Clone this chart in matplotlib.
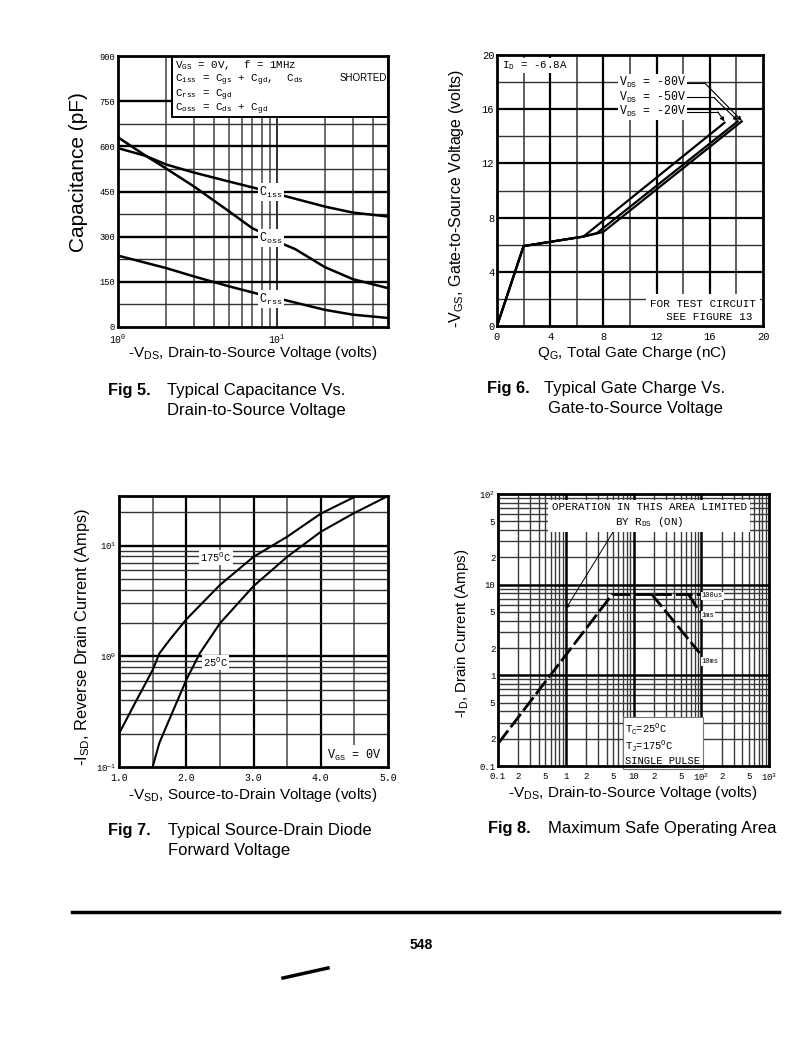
import matplotlib
matplotlib.use('Agg')
import matplotlib.pyplot as plt
from matplotlib.patches import Rectangle

W, H = 796, 1062
MONO = 'Liberation Mono'
SANS = 'Liberation Sans'
plt.rcParams['font.family'] = [SANS, 'DejaVu Sans']

# ---------------- Fig 5 data: capacitance vs VDS ----------------
ciss_v = [1, 1.5, 2, 3, 5, 8, 10, 20, 30, 50]
ciss_c = [594, 568, 540, 513, 483, 456, 442, 400, 380, 367]
coss_v = [1, 1.5, 2, 3, 5, 7, 8, 10, 13, 20, 30, 50]
coss_c = [630, 568, 527, 467, 384, 328, 314, 284, 259, 199, 159, 129]
crss_v = [1, 2, 3, 5, 8, 10, 20, 30, 50]
crss_c = [237, 196, 168, 135, 107, 96, 57, 41, 30]
cap_yticks = [0, 150, 300, 450, 600, 750, 900]

# ---------------- Fig 6 data: gate charge ----------------
qg_20 = [0, 2.0, 6.5, 17.1]
vg_20 = [0, 5.9, 6.6, 15.0]
qg_50 = [0, 2.0, 6.5, 7.5, 18.1]
vg_50 = [0, 5.9, 6.6, 6.85, 15.1]
qg_80 = [0, 2.0, 6.5, 8.0, 18.4]
vg_80 = [0, 5.9, 6.6, 6.95, 15.1]
qg_ticks = [0, 4, 8, 12, 16, 20]

# ---------------- Fig 7 data: diode forward voltage ----------------
vsd_175 = [1.0, 1.25, 1.5, 1.6, 1.75, 2.0, 2.5, 3.0, 3.5, 4.0, 4.53]
isd_175 = [0.2, 0.39, 0.75, 1.06, 1.4, 2.15, 4.4, 7.9, 12, 19.4, 28]
vsd_25 = [1.5, 1.6, 1.75, 2.0, 2.2, 2.5, 3.0, 3.5, 4.0, 4.48, 5.0]
isd_25 = [0.1, 0.165, 0.27, 0.61, 1.06, 1.98, 4.3, 7.9, 13.3, 19.4, 28]
vsd_ticks = [1.0, 2.0, 3.0, 4.0, 5.0]

# ---------------- Fig 8 data: SOA ----------------
rds_v = [0.1, 4.94]
rds_i = [0.176, 7.95]
us100_v = [4.94, 100]
us100_i = [7.95, 7.95]
ms1_v = [63.8, 95]
ms1_i = [7.95, 5.0]
ms10_v = [18.3, 95]
ms10_i = [7.95, 1.76]
soa_xticks = [0.1, 0.2, 0.5, 1, 2, 5, 10, 20, 50, 100, 200, 500, 1000]
soa_xlabels = ['0.1', '2', '5', '1', '2', '5', '10', '2', '5',
               '10$^\\mathregular{2}$', '2', '5', '10$^\\mathregular{3}$']
soa_yticks = [0.1, 0.2, 0.5, 1, 2, 5, 10, 20, 50, 100]
soa_ylabels = ['0.1', '2', '5', '1', '2', '5', '10', '2', '5', '10$^\\mathregular{2}$']


def ax_at(fig, l, t, r, b):
    return fig.add_axes([l / W, 1 - b / H, (r - l) / W, (b - t) / H])


def style(ax):
    for s in ax.spines.values():
        s.set_linewidth(2.0)
        s.set_color('black')
        s.set_zorder(10)
    ax.tick_params(length=0, pad=2)
    ax.tick_params(axis='x', pad=4)


def ftext(fig, x, y, s, **kw):
    fig.text(x / W, 1 - y / H, s, **kw)


WB = dict(facecolor='white', edgecolor='none', pad=1.0)
fig = plt.figure(figsize=(W / 100, H / 100), dpi=100)

# ======================= Fig 5 =======================
ax = ax_at(fig, 118, 56, 388, 327)
ax.set_xscale('log')
ax.set_xlim(1, 50)
ax.set_ylim(0, 900)
for v in [2, 3, 4, 5, 6, 7, 8, 9, 20, 30, 40]:
    ax.axvline(v, color='#444444', lw=1.1, zorder=1)
ax.axvline(10, color='#222222', lw=1.3, zorder=1)
for c in [150, 300, 450, 600, 750]:
    ax.axhline(c, color='black', lw=1.7, zorder=1)
for c in [75, 225, 375, 525, 675]:
    ax.axhline(c, color='#333333', lw=1.0, zorder=1)
ax.plot(ciss_v, ciss_c, color='black', lw=1.8, zorder=3)
ax.plot(coss_v, coss_c, color='black', lw=1.8, zorder=3)
ax.plot(crss_v, crss_c, color='black', lw=1.8, zorder=3)
lab = dict(fontsize=8.5, family=MONO, ha='center', va='center', zorder=6, bbox=WB)
ax.text(9.2, 447, 'C$_\\mathregular{iss}$', **lab)
ax.text(9.2, 295, 'C$_\\mathregular{oss}$', **lab)
ax.text(9.2, 92, 'C$_\\mathregular{rss}$', **lab)
ax.add_patch(Rectangle((2.2, 697), 50 - 2.2, 210, facecolor='white', edgecolor='black',
                       lw=1.4, zorder=6))
leg = dict(family=MONO, fontsize=7.8, ha='left', va='center', zorder=7)
ax.text(2.3, 869, 'V$_\\mathregular{GS}$ = 0V,  f = 1MHz', **leg)
ax.text(2.3, 820, 'C$_\\mathregular{iss}$ = C$_\\mathregular{gs}$ + C$_\\mathregular{gd}$,  C$_\\mathregular{ds}$', **leg)
ax.text(49, 827, 'SHORTED', family=SANS, fontsize=7, ha='right', va='center', zorder=7)
ax.text(2.3, 771, 'C$_\\mathregular{rss}$ = C$_\\mathregular{gd}$', **leg)
ax.text(2.3, 722, 'C$_\\mathregular{oss}$ = C$_\\mathregular{ds}$ + C$_\\mathregular{gd}$', **leg)
ax.set_xticks([1, 10])
ax.set_xticklabels(['10$^\\mathregular{0}$', '10$^\\mathregular{1}$'], family=MONO, fontsize=7)
ax.set_xticks([], minor=True)
ax.set_yticks(cap_yticks)
ax.set_yticklabels([str(v) for v in cap_yticks], family=MONO, fontsize=6.3)
style(ax)
ftext(fig, 78, 172, 'Capacitance (pF)', fontsize=15, rotation=90, ha='center', va='center')
ftext(fig, 253, 353, '-V$_\\mathregular{DS}$, Drain-to-Source Voltage (volts)', fontsize=11,
      ha='center', va='center')
ftext(fig, 108, 390, 'Fig 5.', fontsize=11.8, weight='bold', va='center')
ftext(fig, 167, 390, 'Typical Capacitance Vs.', fontsize=12, va='center')
ftext(fig, 167, 410, 'Drain-to-Source Voltage', fontsize=12, va='center')

# ======================= Fig 6 =======================
ax = ax_at(fig, 497, 55, 763, 326)
ax.set_xlim(0, 20)
ax.set_ylim(0, 20)
for v in [2, 6, 10, 14, 18]:
    ax.axvline(v, color='#333333', lw=1.1, zorder=1)
    ax.axhline(v, color='#333333', lw=1.0, zorder=1)
for v in [4, 8, 12, 16]:
    ax.axvline(v, color='black', lw=1.6, zorder=1)
    ax.axhline(v, color='black', lw=1.6, zorder=1)
ax.plot(qg_80, vg_80, color='black', lw=1.6, zorder=3)
ax.plot(qg_50, vg_50, color='black', lw=1.6, zorder=3)
ax.plot(qg_20, vg_20, color='black', lw=1.6, zorder=3)
ax.text(0.35, 19.7, 'I$_\\mathregular{D}$ = -6.8A', family=MONO, fontsize=7.8, ha='left', va='top',
        zorder=6, bbox=WB)
leaders = [(17.95, '-80V', 15.6, (18.4, 15.15)),
           (16.87, '-50V', 16.3, (18.1, 15.15)),
           (15.8, '-20V', 16.6, (17.1, 15.1))]
for yy, s, xe, end in leaders:
    ax.text(14.2, yy, 'V$_\\mathregular{DS}$ = ' + s, family=MONO, fontsize=8.3, ha='right',
            va='center', zorder=6, bbox=dict(facecolor='white', edgecolor='none', pad=0.6))
    ax.plot([14.2, xe], [yy, yy], color='black', lw=0.8, zorder=5)
    ax.annotate('', xy=end, xytext=(xe, yy), zorder=5,
                arrowprops=dict(arrowstyle='-|>', lw=0.8, color='black', mutation_scale=6,
                                shrinkA=0, shrinkB=0))
ax.text(15.5, 1.15, 'FOR TEST CIRCUIT\n  SEE FIGURE 13', family=MONO, fontsize=7.9, ha='center',
        va='center', zorder=6, linespacing=1.45,
        bbox=dict(facecolor='white', edgecolor='none', pad=3))
ax.set_xticks(qg_ticks)
ax.set_xticklabels([str(v) for v in qg_ticks], family=MONO, fontsize=7.5)
ax.set_yticks(qg_ticks)
ax.set_yticklabels([str(v) for v in qg_ticks], family=MONO, fontsize=7.5)
style(ax)
ftext(fig, 457, 199, '-V$_\\mathregular{GS}$, Gate-to-Source Voltage (volts)', fontsize=11.5,
      rotation=90, ha='center', va='center')
ftext(fig, 632, 353, 'Q$_\\mathregular{G}$, Total Gate Charge (nC)', fontsize=11,
      ha='center', va='center')
ftext(fig, 487, 389, 'Fig 6.', fontsize=11.8, weight='bold', va='center')
ftext(fig, 544, 389, 'Typical Gate Charge Vs.', fontsize=12, va='center')
ftext(fig, 548, 409, 'Gate-to-Source Voltage', fontsize=12, va='center')

# ======================= Fig 7 =======================
ax = ax_at(fig, 119, 496, 388, 767)
ax.set_yscale('log')
ax.set_xlim(1.0, 5.0)
ax.set_ylim(0.1, 28)
for v in [1.5, 2.5, 3.5, 4.5]:
    ax.axvline(v, color='#555555', lw=1.2, zorder=1)
for v in [2.0, 3.0, 4.0]:
    ax.axvline(v, color='black', lw=1.6, zorder=1)
for dec in [0.1, 1, 10]:
    for m in range(2, 10):
        if dec * m < 28:
            ax.axhline(dec * m, color='#333333', lw=1.0, zorder=1)
for v in [1, 10]:
    ax.axhline(v, color='black', lw=1.7, zorder=1)
ax.plot(vsd_175, isd_175, color='black', lw=1.5, zorder=3)
ax.plot(vsd_25, isd_25, color='black', lw=1.5, zorder=3)
lab = dict(fontsize=7.5, family=MONO, ha='center', va='center', zorder=6,
           bbox=dict(facecolor='white', edgecolor='none', pad=0.8))
ax.text(2.44, 7.8, '175$^\\mathregular{O}$C', **lab)
ax.text(2.44, 0.88, '25$^\\mathregular{O}$C', **lab)
ax.text(4.5, 0.128, 'V$_\\mathregular{GS}$ = 0V', fontsize=8.5, family=MONO, ha='center',
        va='center', zorder=6, bbox=dict(facecolor='white', edgecolor='none', pad=2))
ax.set_xticks(vsd_ticks)
ax.set_xticklabels(['%.1f' % v for v in vsd_ticks], family=MONO, fontsize=7)
ax.set_yticks([0.1, 1, 10])
ax.set_yticklabels(['10$^\\mathregular{-1}$', '10$^\\mathregular{0}$', '10$^\\mathregular{1}$'],
                   family=MONO, fontsize=6.5)
ax.set_yticks([], minor=True)
style(ax)
ftext(fig, 82, 637, '-I$_\\mathregular{SD}$, Reverse Drain Current (Amps)', fontsize=11.8,
      rotation=90, ha='center', va='center')
ftext(fig, 253, 795, '-V$_\\mathregular{SD}$, Source-to-Drain Voltage (volts)', fontsize=11,
      ha='center', va='center')
ftext(fig, 108, 830, 'Fig 7.', fontsize=11.8, weight='bold', va='center')
ftext(fig, 168, 830, 'Typical Source-Drain Diode', fontsize=12, va='center')
ftext(fig, 168, 850, 'Forward Voltage', fontsize=12, va='center')

# ======================= Fig 8 =======================
ax = ax_at(fig, 498, 494, 769, 766)
ax.set_xscale('log')
ax.set_yscale('log')
ax.set_xlim(0.1, 1000)
ax.set_ylim(0.1, 100)
for dec in [0.1, 1, 10, 100]:
    for m in range(2, 10):
        ax.axvline(dec * m, color='#3a3a3a', lw=1.0, zorder=1)
for dec in [0.1, 1, 10]:
    for m in range(2, 10):
        ax.axhline(dec * m, color='#3a3a3a', lw=1.0, zorder=1)
for v in [1, 10, 100]:
    ax.axvline(v, color='black', lw=1.8, zorder=1)
for v in [1, 10]:
    ax.axhline(v, color='black', lw=1.8, zorder=1)
dash = dict(color='black', lw=2.0, ls=(0, (6, 1.5)), zorder=4)
ax.plot(rds_v, rds_i, **dash)
ax.plot(us100_v, us100_i, **dash)
ax.plot(ms1_v, ms1_i, **dash)
ax.plot(ms10_v, ms10_i, **dash)
sm = dict(fontsize=5, family=MONO, ha='left', va='center', zorder=6,
          bbox=dict(facecolor='white', edgecolor='none', pad=0.5))
ax.text(102, 7.5, '100us', **sm)
ax.text(102, 4.6, '1ms', **sm)
ax.text(102, 1.42, '10ms', **sm)
ax.text(17, 58, 'OPERATION IN THIS AREA LIMITED\nBY R$_\\mathregular{DS}$ (ON)', family=MONO,
        fontsize=7.8, ha='center', va='center', zorder=6, linespacing=1.3,
        bbox=dict(facecolor='white', edgecolor='none', pad=2.5))
ax.annotate('', xy=(1.0, 5.4), xytext=(5.2, 40), zorder=5,
            arrowprops=dict(arrowstyle='-|>', lw=0.7, color='black', mutation_scale=6,
                            shrinkA=0, shrinkB=0))
ax.text(7.6, 0.175, 'T$_\\mathregular{C}$=25$^\\mathregular{O}$C\nT$_\\mathregular{J}$=175$^\\mathregular{O}$C\nSINGLE PULSE',
        family=MONO, fontsize=7.5, ha='left', va='center', zorder=6, linespacing=1.2,
        bbox=dict(facecolor='white', edgecolor='#777777', lw=0.8, pad=2))
ax.set_xticks(soa_xticks)
ax.set_xticklabels(soa_xlabels, family=MONO, fontsize=6.5)
ax.set_xticks([], minor=True)
ax.set_yticks(soa_yticks)
ax.set_yticklabels(soa_ylabels, family=MONO, fontsize=6.5)
ax.set_yticks([], minor=True)
style(ax)
ftext(fig, 462, 633, '-I$_\\mathregular{D}$, Drain Current (Amps)', fontsize=10.8,
      rotation=90, ha='center', va='center')
ftext(fig, 633, 793, '-V$_\\mathregular{DS}$, Drain-to-Source Voltage (volts)', fontsize=11,
      ha='center', va='center')
ftext(fig, 488, 829, 'Fig 8.', fontsize=11.8, weight='bold', va='center')
ftext(fig, 548, 829, 'Maximum Safe Operating Area', fontsize=12, va='center')

# ======================= footer =======================
fig.add_artist(plt.Line2D([72 / W, 779 / W], [1 - 912 / H, 1 - 912 / H], color='black', lw=2.5))
ftext(fig, 421, 945, '548', fontsize=10, weight='bold', ha='center', va='center')
fig.add_artist(plt.Line2D([283 / W, 328 / W], [1 - 978 / H, 1 - 968 / H], color='black', lw=2.5))

fig.savefig('out.png', dpi=100)
